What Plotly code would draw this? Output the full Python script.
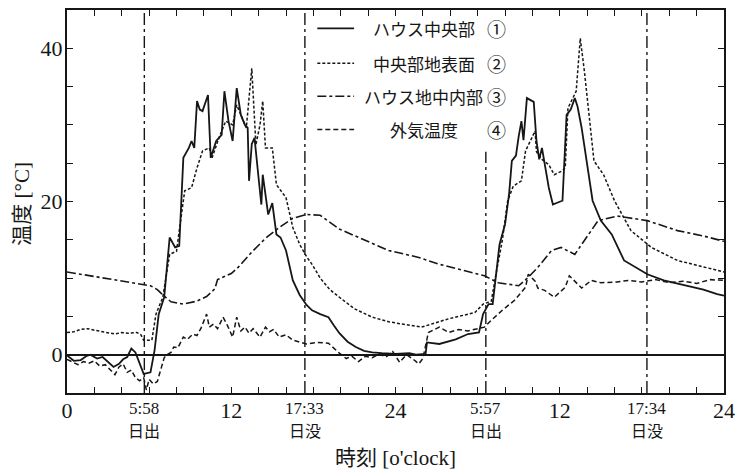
import plotly.graph_objects as go

# ---------------- data ----------------
# (1) house centre air temperature  [h], [deg C]
house_t = [0, 0.5, 1.0, 1.4, 1.7, 2.2, 2.6, 3.0, 3.4, 3.8, 4.1, 4.4, 4.7, 5.0, 5.2, 5.6,
           6.1, 6.4, 6.7, 7.1, 7.5, 7.9, 8.2, 8.5, 8.9, 9.1, 9.3, 9.5, 9.7, 9.9, 10.3,
           10.5, 10.9, 11.3, 11.5, 11.8, 12.1, 12.4, 12.7, 13.0, 13.2, 13.3, 13.5, 13.7,
           14.0, 14.2, 14.3, 14.5, 14.7, 15.0, 15.3, 15.6, 16.0, 16.5, 17.0, 17.5, 17.9,
           18.5, 19.1, 19.5, 19.9, 20.5, 21.1, 21.7, 22.3, 23.0, 24.0, 25.0, 25.5, 26.2,
           26.3, 27.2, 28.4, 29.3, 30.1, 30.4, 30.8, 31.1, 31.3, 31.6, 32.0,
           32.3, 32.5, 32.8, 33.0, 33.2, 33.35, 33.6, 34.1, 34.3, 34.5, 34.7, 35.2, 35.5,
           35.9, 36.2, 36.5, 36.8, 37.1, 37.3, 37.6, 38.0, 38.4, 39.0, 39.8, 40.7, 41.5,
           42.4, 43.6, 44.5, 45.6, 46.5, 47.5, 48.0]
house_v = [-0.1, -0.8, -0.7, -0.2, 0.0, -0.5, -0.3, -1.0, -1.6, -1.2, -0.6, -0.3, 0.8, 0.3,
           -0.7, -2.5, -2.3, 0.6, 5.3, 7.5, 15.3, 14.0, 14.2, 25.7, 27.0, 27.9, 27.0, 33.1,
           32.0, 31.8, 33.9, 25.7, 27.9, 28.7, 34.4, 30.5, 27.9, 34.8, 31.3, 30.0, 29.6,
           22.7, 27.5, 28.3, 23.0, 19.6, 23.5, 20.5, 18.3, 19.8, 15.7, 15.3, 13.6, 9.7, 7.8,
           6.5, 5.8, 5.3, 4.9, 3.8, 2.8, 1.7, 1.0, 0.5, 0.3, 0.2, 0.1, 0.2, 0.0, 0.1,
           1.6, 1.4, 2.0, 2.7, 2.9, 5.3, 6.6, 6.6, 9.7, 14.4, 17.0,
           21.0, 25.3, 26.0, 28.5, 30.5, 28.0, 33.5, 33.0, 27.9, 25.5, 27.0, 21.8, 19.6,
           19.9, 20.1, 31.3, 32.0, 33.5, 32.4, 29.6, 25.0, 20.1, 17.5, 15.7, 12.3, 11.4,
           10.5, 9.7, 9.3, 8.8, 8.5, 7.9, 7.7]

# (2) centre ground surface
surface_t = [0, 0.5, 1.0, 1.5, 2.0, 2.5, 3.0, 3.5, 4.0, 4.5, 5.1, 5.4, 5.6, 6.2, 6.5, 7.0,
             7.5, 8.0, 8.3, 8.6, 9.1, 9.5, 9.9, 10.4, 10.6, 11.1, 11.6, 12.1, 12.4, 12.8,
             13.1, 13.5, 13.8, 14.1, 14.3, 14.5, 15.0, 15.3, 16.0, 16.5, 17.0, 17.5, 17.9,
             18.5, 19.2, 19.9, 21.0, 22.3, 23.5, 24.5, 25.9, 27.9, 29.8, 30.4, 31.0,
             31.3, 31.8, 32.2, 32.6, 33.2, 33.5, 34.2, 34.3, 34.7, 35.2, 35.6, 36.2, 36.4,
             36.6, 37.2, 37.5, 37.8, 38.2, 38.5, 39.2, 40.0, 41.2, 42.7, 44.6, 45.8, 47.5,
             48.0]
surface_v = [2.9, 3.0, 3.3, 3.4, 3.2, 3.0, 2.8, 2.7, 2.9, 2.8, 2.9, 2.6, 1.9, 1.9, 5.3, 7.5,
             13.1, 13.5, 17.5, 21.4, 21.8, 24.4, 26.6, 27.0, 25.7, 28.3, 30.5, 30.0, 32.6,
             31.0, 29.6, 37.4, 27.4, 30.0, 33.1, 27.0, 27.0, 22.2, 20.5, 16.6, 14.4, 12.8,
             11.8, 10.0, 8.5, 7.5, 6.0, 4.9, 4.3, 4.0, 3.6, 4.7, 5.5, 6.6, 7.0,
             10.1, 14.9, 20.1, 22.0, 22.7, 26.6, 29.2, 26.5, 25.5, 24.8, 23.5, 24.0, 24.4,
             32.2, 34.4, 41.3, 37.0, 30.0, 25.3, 23.5, 20.1, 16.2, 14.0, 12.3, 11.8, 11.0,
             10.8]

# (3) house underground
soil_t = [0, 1, 2, 3, 4, 5, 5.6, 6.1, 6.6, 7.0, 7.6, 8.5, 9.5, 10.2, 10.8, 11.0, 12.0, 12.5,
          13.5, 14.5, 15.5, 16.5, 17.5, 18.5, 19.9, 21.5, 23.5, 25.7, 27.2, 29.0, 30.5,
          31.5, 33.0, 33.7, 34.4, 35.4, 36.1, 37.1, 37.8, 38.8, 40.2, 41.0, 42.4, 44.6,
          46.5, 48.0]
soil_v = [10.8, 10.5, 10.2, 9.9, 9.6, 9.3, 9.2, 9.0, 8.5, 7.8, 6.9, 6.6, 7.0, 7.6, 8.6, 9.8,
          10.6, 11.4, 13.4, 15.2, 16.6, 17.8, 18.3, 18.2, 16.4, 15.2, 13.6, 12.7, 11.8, 11.0,
          10.3, 9.4, 9.0, 10.1, 11.4, 13.6, 14.0, 13.1, 14.9, 17.5, 18.1, 17.9, 17.5, 16.2,
          15.5, 14.8]

# (4) outside air
outside_t = [0, 0.4, 0.8, 1.2, 1.6, 2.0, 2.4, 2.8, 3.2, 3.5, 3.8, 4.1, 4.4, 4.7, 5.0, 5.3,
             5.6, 5.8, 6.0, 6.3, 6.6, 6.9, 7.1, 7.3, 7.6, 7.8, 8.1, 8.5, 8.8, 9.2, 9.5, 9.8,
             10.2, 10.4, 10.7, 11.0, 11.4, 11.7, 12.1, 12.4, 12.7, 13.0, 13.3, 13.6, 14.1,
             14.5, 14.8, 15.1, 15.5, 16.0, 16.5, 17.5, 18.3, 19.1, 19.5, 19.9, 20.4, 20.8,
             21.3, 21.8, 22.3, 22.8, 23.3, 23.8, 24.3, 24.8, 25.3, 25.7, 26.0, 26.4, 27.2,
             27.9, 28.6, 29.3, 30.0, 30.5, 31.0, 31.8, 32.7, 33.5, 33.7, 34.2, 34.4, 34.9,
             35.6, 36.4, 36.7, 37.3, 37.6, 38.3, 39.0, 40.2, 41.0, 42.0, 43.0, 44.0, 45.0,
             46.0, 47.0, 48.0]
outside_v = [-0.6, -1.0, -1.3, -0.9, -1.1, -0.8, -1.5, -1.3, -2.0, -2.6, -1.6, -1.2, -2.3,
             -2.0, -3.0, -3.4, -3.0, -4.6, -3.2, -3.8, -3.5, -1.5, -0.4, 0.0, 0.3, 1.0, 0.9,
             2.3, 2.0, 2.7, 2.5, 3.5, 5.3, 3.6, 4.0, 3.4, 4.9, 3.9, 2.3, 4.9, 3.1, 3.6, 2.8,
             3.4, 2.3, 3.6, 3.0, 3.3, 2.3, 2.6, 1.9, 1.4, 1.6, 1.5, 0.8, 0.2, -0.5, -0.2,
             -0.9, -0.2, -0.4, 0.1, -0.3, 0.4, -1.0, 0.0, -0.6, -1.2, -0.5, 2.9, 3.6,
             2.9, 3.3, 3.1, 3.4, 3.6, 4.5, 5.8, 7.1, 8.8, 10.5, 9.6, 8.7, 8.4,
             7.5, 8.8, 10.3, 9.2, 8.7, 9.7, 9.4, 9.5, 9.7, 9.5, 9.8, 9.4, 9.6,
             9.3, 9.8, 9.7]

series_names = ["ハウス中央部", "中央部地表面", "ハウス地中内部", "外気温度"]
series_marks = ["①", "②", "③", "④"]

# sunrise / sunset markers
sun_hours = [5.65, 17.38, 30.6, 42.37]
sun_tops = [45, 45, 26.5, 45]
sun_time_labels = ["5:58", "17:33", "5:57", "17:34"]
sun_event_labels = ["日出", "日没", "日出", "日没"]

# axis ticks
x_tick_vals = list(range(0, 49, 2))
x_major_text = {0: "0", 12: "12", 24: "24", 36: "12", 48: "24"}
y_tick_vals = list(range(0, 41, 5))
y_major_text = {0: "0", 20: "20", 40: "40"}

# ---------------- styles ----------------
INK = "#161616"
SERIF = "Liberation Serif, Noto Sans CJK JP, serif"
CJK = "Noto Sans CJK JP, sans-serif"
dashes = ["solid", "3px,2px", "9px,3px,3px,3px", "5px,3px"]
widths = [1.8, 1.5, 1.6, 1.5]

fig = go.Figure()
for (t, v), name, dash, w in zip(
        [(house_t, house_v), (surface_t, surface_v), (soil_t, soil_v), (outside_t, outside_v)],
        series_names, dashes, widths):
    fig.add_trace(go.Scatter(x=t, y=v, mode="lines", name=name, showlegend=False,
                             hoverinfo="skip",
                             line=dict(color=INK, width=w, dash=dash)))

# sunrise / sunset vertical lines
for h, top in zip(sun_hours, sun_tops):
    fig.add_shape(type="line", xref="x", yref="y", x0=h, x1=h, y0=-5, y1=top,
                  line=dict(color=INK, width=1.4, dash="12px,4px,3px,4px"))

annotations = []
for h, tl, el in zip(sun_hours, sun_time_labels, sun_event_labels):
    annotations.append(dict(x=h, xref="x", y=-0.0398, yref="paper", text=tl, showarrow=False,
                            xanchor="center", yanchor="middle",
                            font=dict(family=SERIF, size=17, color=INK)))
    annotations.append(dict(x=h, xref="x", y=-0.097, yref="paper", text=el, showarrow=False,
                            xanchor="center", yanchor="middle",
                            font=dict(family=CJK, size=16, color=INK)))

# axis titles
annotations.append(dict(x=0.5, xref="paper", y=-0.170, yref="paper", text="時刻 [o'clock]",
                        showarrow=False, xanchor="center", yanchor="middle",
                        font=dict(family=SERIF, size=21, color=INK)))
annotations.append(dict(x=-0.069, xref="paper", y=0.4935, yref="paper", text="温度 [°C]",
                        showarrow=False, textangle=-90, xanchor="center", yanchor="middle",
                        font=dict(family=SERIF, size=21, color=INK)))

# custom legend
legend_rows_y = [0.952, 0.861, 0.775, 0.688]
for name, mark, dash, w, ry in zip(series_names, series_marks, dashes, widths, legend_rows_y):
    fig.add_shape(type="line", xref="paper", yref="paper", x0=0.381, x1=0.437, y0=ry, y1=ry,
                  line=dict(color=INK, width=w, dash=dash))
    annotations.append(dict(x=0.543, xref="paper", y=ry, yref="paper", text=name,
                            showarrow=False, xanchor="center", yanchor="middle",
                            font=dict(family=CJK, size=17, color=INK)))
    annotations.append(dict(x=0.654, xref="paper", y=ry, yref="paper", text=mark,
                            showarrow=False, xanchor="center", yanchor="middle",
                            font=dict(family=CJK, size=19, color=INK)))

fig.update_layout(
    width=743, height=471,
    margin=dict(l=67, r=16, t=8, b=78),
    paper_bgcolor="white", plot_bgcolor="white",
    showlegend=False,
    annotations=annotations,
    xaxis=dict(range=[0, 48], showgrid=False, zeroline=False,
               showline=True, linecolor=INK, linewidth=2, mirror="ticks",
               ticks="inside", ticklen=6, tickwidth=1.3, tickcolor=INK,
               ticklabelstandoff=-3,
               tickvals=x_tick_vals, ticktext=[x_major_text.get(v, "") for v in x_tick_vals],
               tickfont=dict(family=SERIF, size=22, color=INK)),
    yaxis=dict(range=[-5, 45], showgrid=False,
               zeroline=True, zerolinecolor=INK, zerolinewidth=1.6,
               showline=True, linecolor=INK, linewidth=2, mirror="ticks",
               ticks="inside", ticklen=6, tickwidth=1.3, tickcolor=INK,
               ticklabelstandoff=-2,
               tickvals=y_tick_vals, ticktext=[y_major_text.get(v, "") for v in y_tick_vals],
               tickfont=dict(family=SERIF, size=22, color=INK)),
)

fig.write_html("out.html", config={"displayModeBar": False},
               post_script="document.body.style.margin='0px';")
